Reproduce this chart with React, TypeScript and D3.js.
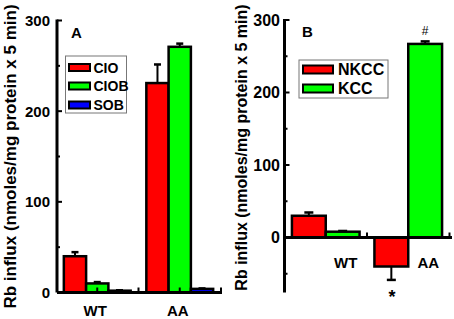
import React from "react";
import * as d3 from "d3";

const categories = ["WT", "AA"];
const yTicksMajor = [0, 100, 200, 300];

// Panel A
const seriesA = ["CIO", "CIOB", "SOB"];
const valuesCIO = [40, 231];
const errCIO = [4.5, 20.5];
const valuesCIOB = [10, 271];
const errCIOB = [1.5, 3.5];
const valuesSOB = [2, 4];
const errSOB = [0.5, 0.5];
const minorA = [50, 150, 250];

// Panel B
const seriesB = ["NKCC", "KCC"];
const valuesNKCC = [30, -40];
const errNKCC = [4.5, 18.5];
const valuesKCC = [8, 267];
const errKCC = [1, 3.5];
const minorB = [-50, 50, 150, 250];

const colorsA = ["#ff0000", "#00ff00", "#0000ff"];
const colorsB = ["#ff0000", "#00ff00"];

const FONT = "'Liberation Sans', Arial, sans-serif";

type PanelProps = {
  names: string[];
  values: number[][];
  errs: number[][];
  colors: string[];
  yRange: [number, number];
  yMin: number;
  xRange: [number, number];
  axisX: number;
  axisRight: number;
  barW: number;
  capW: number;
  minor: number[];
  tickFont: number;
  tickRight: number;
  labelFont: number;
  labelX: number;
  labelY: number;
  letter: string;
  letterX: number;
  letterY: number;
  catY: number;
  catDx: number;
  legend: { x: number; y: number; w: number; h: number; sx: number; sw: number; sh: number; tx: number; rows: number[]; font: number };
};

function Panel(p: PanelProps) {
  const y = d3.scaleLinear().domain([0, 300]).range(p.yRange);
  const x = d3.scaleLinear().domain([0.5, 2.5]).range(p.xRange);
  const n = p.names.length;
  const y0 = y(0);
  const bars: React.ReactNode[] = [];
  const errs: React.ReactNode[] = [];
  categories.forEach((c, ci) => {
    const center = ci + 1;
    p.names.forEach((s, si) => {
      const v = p.values[si][ci];
      const e = p.errs[si][ci];
      const left = center - (n * p.barW) / 2 + si * p.barW;
      const bx = x(left);
      const bw = x(left + p.barW) - bx;
      const top = Math.min(y(v), y0);
      const h = Math.abs(y(v) - y0);
      bars.push(
        <rect key={`b${ci}${si}`} x={bx} y={top} width={bw} height={h} fill={p.colors[si]} stroke="#000" strokeWidth={2.5} />
      );
      const ex = bx + bw / 2;
      const end = v >= 0 ? v + e : v - e;
      errs.push(
        <g key={`e${ci}${si}`} stroke="#000" strokeWidth={2}>
          <line x1={ex} x2={ex} y1={y(v)} y2={y(end)} />
          <line x1={ex - p.capW / 2} x2={ex + p.capW / 2} y1={y(end)} y2={y(end)} strokeWidth={2.5} />
        </g>
      );
    });
  });
  const L = p.legend;
  return (
    <g fontFamily={FONT} fontWeight="bold">
      {errs}
      {bars}
      {/* y axis */}
      <line x1={p.axisX} x2={p.axisX} y1={y(300) - 1} y2={y(p.yMin)} stroke="#000" strokeWidth={3} />
      {yTicksMajor.map((t) => (
        <g key={`yt${t}`}>
          <line x1={p.axisX} x2={p.axisX + 5} y1={y(t)} y2={y(t)} stroke="#000" strokeWidth={2} />
          <text x={p.tickRight} y={y(t)} dy="0.36em" textAnchor="end" fontSize={p.tickFont}>{t}</text>
        </g>
      ))}
      {p.minor.map((t) => (
        <line key={`ym${t}`} x1={p.axisX} x2={p.axisX + 3} y1={y(t)} y2={y(t)} stroke="#000" strokeWidth={2} />
      ))}
      {/* x axis */}
      <line x1={p.axisX} x2={p.axisRight} y1={y0} y2={y0} stroke="#000" strokeWidth={3} />
      {[1, 1.5, 2, 2.5].map((t) => (
        <line key={`xt${t}`} x1={x(t)} x2={x(t)} y1={y0} y2={y0 - 5} stroke="#000" strokeWidth={2} />
      ))}
      {categories.map((c, ci) => (
        <text key={c} x={x(ci + 1) + p.catDx} y={p.catY} textAnchor="middle" fontSize={15}>{c}</text>
      ))}
      <text transform={`translate(${p.labelX},${p.labelY}) rotate(-90)`} textAnchor="middle" fontSize={p.labelFont}>
        Rb influx (nmoles/mg protein x 5 min)
      </text>
      <text x={p.letterX} y={p.letterY} fontSize={15}>{p.letter}</text>
      {/* legend */}
      <rect x={L.x} y={L.y} width={L.w} height={L.h} fill="#fff" stroke="#777" strokeWidth={1} />
      {p.names.map((s, si) => (
        <g key={`l${s}`}>
          <rect x={L.sx} y={L.rows[si] - L.sh / 2} width={L.sw} height={L.sh} fill={p.colors[si]} stroke="#000" strokeWidth={2} />
          <text x={L.tx} y={L.rows[si]} dy="0.36em" fontSize={L.font}>{s}</text>
        </g>
      ))}
    </g>
  );
}

export default function App() {
  return (
    <svg width={454} height={319} style={{ position: "absolute", left: 0, top: 0, background: "#fff" }}>
      <rect width={454} height={319} fill="#fff" />
      <Panel
        names={seriesA}
        values={[valuesCIO, valuesCIOB, valuesSOB]}
        errs={[errCIO, errCIOB, errSOB]}
        colors={colorsA}
        yRange={[292.5, 20.5]}
        yMin={0}
        xRange={[56, 221]}
        axisX={57}
        axisRight={222}
        barW={0.27}
        capW={7}
        minor={minorA}
        tickFont={15}
        tickRight={50}
        labelFont={17}
        labelX={15.5}
        labelY={156.5}
        letter="A"
        letterX={71}
        letterY={38}
        catY={316}
        catDx={-2}
        legend={{ x: 65.5, y: 56, w: 61, h: 57, sx: 69, sw: 21, sh: 7, tx: 93.5, rows: [67.5, 86, 105], font: 14 }}
      />
      <Panel
        names={seriesB}
        values={[valuesNKCC, valuesKCC]}
        errs={[errNKCC, errKCC]}
        colors={colorsB}
        yRange={[237.5, 20]}
        yMin={-76}
        xRange={[284.5, 449.5]}
        axisX={284.5}
        axisRight={452}
        barW={0.41}
        capW={9}
        minor={minorB}
        tickFont={16}
        tickRight={280}
        labelFont={16}
        labelX={246.5}
        labelY={147.5}
        letter="B"
        letterX={302}
        letterY={37}
        catY={268}
        catDx={20}
        legend={{ x: 299, y: 60, w: 89, h: 38, sx: 303, sw: 30, sh: 8, tx: 338, rows: [69.5, 88.5], font: 16 }}
      />
      <text x={425} y={35} textAnchor="middle" fontFamily={FONT} fontSize={12}>#</text>
      <text x={392} y={303} textAnchor="middle" fontFamily={FONT} fontWeight="bold" fontSize={18}>*</text>
    </svg>
  );
}
